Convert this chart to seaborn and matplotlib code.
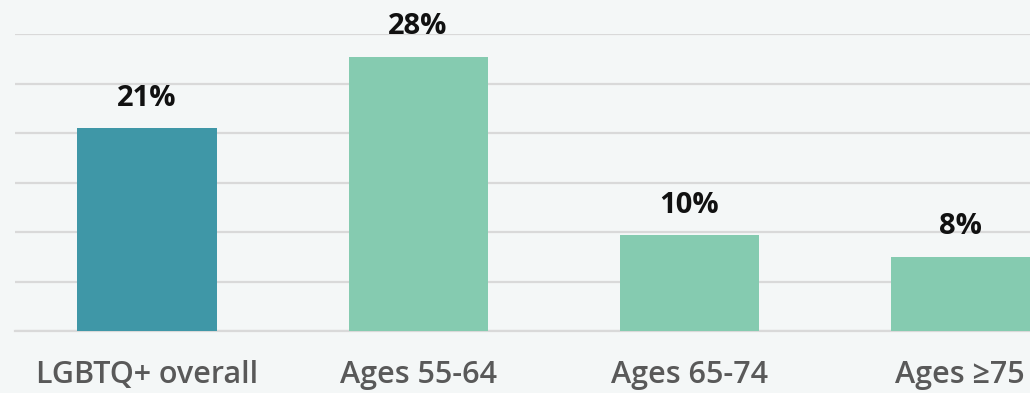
import matplotlib
matplotlib.use("Agg")
import matplotlib.pyplot as plt
import seaborn as sns

categories = ["LGBTQ+ overall", "Ages 55-64", "Ages 65-74", "Ages \u226575"]
values = [20.5, 27.7, 9.7, 7.5]
value_labels = ["21%", "28%", "10%", "8%"]
bar_colors = ["#3f97a7", "#85cbb0", "#85cbb0", "#85cbb0"]
grid_ticks = [0, 5, 10, 15, 20, 25, 30]

sns.set_theme(style="white")
plt.rcParams["font.family"] = ["Open Sans", "DejaVu Sans"]

bg = "#f4f7f7"
fig = plt.figure(figsize=(10.30, 3.93), dpi=100, facecolor=bg)
ax = fig.add_axes([15 / 1030, 62 / 393, 1 - 15 / 1030, 297 / 393])
ax.set_facecolor(bg)

sns.barplot(x=categories, y=values, hue=categories, palette=bar_colors,
            legend=False, width=0.513, saturation=1, linewidth=0,
            ax=ax, zorder=3)

ax.set_xlim(-0.487, 3.258)
ax.set_ylim(0, 30)
ax.set_yticks(grid_ticks)
ax.yaxis.grid(True, color="#d9d9d9", linewidth=1.6, zorder=0)
ax.set_axisbelow(True)
ax.tick_params(axis="y", left=False, labelleft=False)
ax.tick_params(axis="x", bottom=False, pad=15, labelsize=22, labelcolor="#595959")
for lbl in ax.get_xticklabels():
    lbl.set_fontweight("semibold")
for s in ["top", "right", "left"]:
    ax.spines[s].set_visible(False)
ax.spines["bottom"].set_color("#d9d9d9")
ax.spines["bottom"].set_linewidth(1.6)
ax.set_xlabel("")
ax.set_ylabel("")

for c, lab in zip(ax.containers, value_labels):
    ax.bar_label(c, labels=[lab], padding=11,
                 fontsize=21, fontweight="bold", color="#111111")

fig.savefig("out.png", dpi=100, facecolor=bg)
